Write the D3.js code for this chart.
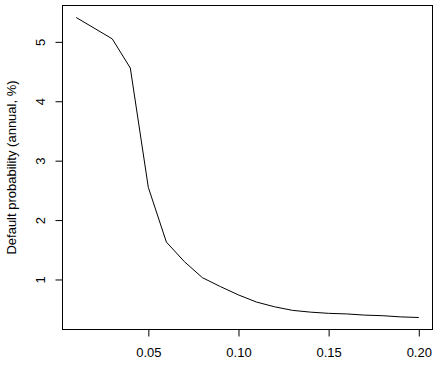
<!DOCTYPE html>
<html>
<head>
<meta charset="utf-8">
<script src="https://cdnjs.cloudflare.com/ajax/libs/d3/7.8.5/d3.min.js"></script>
<style>
  body { margin: 0; background: #fff; }
  text { font-family: "Liberation Sans", Arial, sans-serif; font-size: 13px; fill: #000; }
</style>
</head>
<body>
<div id="chart"></div>
<script>
// threshold (x) vs annual default probability in % (y)
var thresholds = [0.01, 0.03, 0.04, 0.05, 0.06, 0.07, 0.08, 0.09, 0.10, 0.11, 0.12, 0.13, 0.14, 0.15, 0.16, 0.17, 0.18, 0.19, 0.20];
var default_prob = [5.41, 5.05, 4.56, 2.55, 1.63, 1.30, 1.03, 0.88, 0.74, 0.62, 0.54, 0.48, 0.45, 0.43, 0.42, 0.40, 0.39, 0.37, 0.36];
var x_ticks = [0.05, 0.10, 0.15, 0.20];
var y_ticks = [1, 2, 3, 4, 5];

var chart_width  = 438;
var chart_height = 376;
// plot region (note: "top" is reserved on window, so use plot_*)
var plot_left = 62.5, plot_right = 432.5, plot_top = 5.5, plot_bottom = 329.5;
var font = '"Liberation Sans", Arial, sans-serif';

var svg = d3.select('#chart')
		.append('svg')
		.attr('width', chart_width)
		.attr('height', chart_height);

// R style 4% extension of the data range
function pad(ext){
	var d = (ext[1] - ext[0]) * 0.04;
	return [ext[0] - d, ext[1] + d];
}

var x_scale = d3.scaleLinear()
		.domain(pad(d3.extent(thresholds)))
		.range([plot_left, plot_right]);

var y_scale = d3.scaleLinear()
		.domain(pad(d3.extent(default_prob)))
		.range([plot_bottom, plot_top]);

// box
svg.append('rect')
		.attr('x', plot_left)
		.attr('y', plot_top)
		.attr('width', plot_right - plot_left)
		.attr('height', plot_bottom - plot_top)
		.attr('fill', 'none')
		.attr('stroke', '#000')
		.attr('stroke-width', 1);

// x axis
var x_axis = d3.axisBottom(x_scale)
		.tickValues(x_ticks)
		.tickFormat(d3.format('.2f'))
		.tickSize(7)
		.tickPadding(11);

var gx = svg.append('g')
		.attr('transform', 'translate(0,' + plot_bottom + ')')
		.call(x_axis);
gx.select('.domain').remove();
gx.selectAll('text').style('font-size', '13px').style('font-family', font);

// y axis with rotated labels
var y_axis = d3.axisLeft(y_scale)
		.tickValues(y_ticks)
		.tickSize(7)
		.tickFormat(d3.format('d'));

var gy = svg.append('g')
		.attr('transform', 'translate(' + plot_left + ',0)')
		.call(y_axis);
gy.select('.domain').remove();
gy.selectAll('.tick text')
		.attr('x', null)
		.attr('dy', null)
		.attr('text-anchor', 'middle')
		.attr('transform', 'translate(-18,0) rotate(-90)')
		.style('font-size', '13px')
		.style('font-family', font);

// y label
svg.append('text')
		.attr('transform', 'translate(16,' + ((plot_top + plot_bottom) / 2) + ') rotate(-90)')
		.attr('text-anchor', 'middle')
		.text('Default probability (annual, %)');

// line
var line = d3.line()
		.x(function(d, i){ return x_scale(thresholds[i]); })
		.y(function(d){ return y_scale(d); });

svg.append('path')
		.datum(default_prob)
		.attr('d', line)
		.attr('fill', 'none')
		.attr('stroke', '#000')
		.attr('stroke-width', 1);
</script>
</body>
</html>
